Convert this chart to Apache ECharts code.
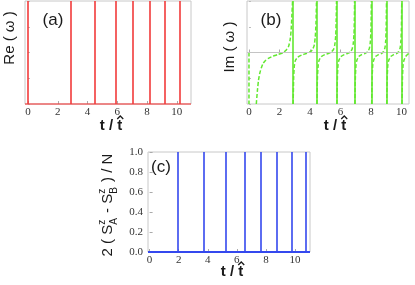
<!DOCTYPE html>
<html><head><meta charset="utf-8">
<script src="https://cdn.jsdelivr.net/npm/echarts@6/dist/echarts.min.js"></script>
<style>html,body{margin:0;padding:0;background:#fff}#c{width:415px;height:285px}</style>
</head><body><div id="c"></div>
<script>
// ---------- data ----------
const xTickLabels = [0, 2, 4, 6, 8, 10];
const reSpikesT = [0, 2.89, 4.5, 5.87, 7.05, 8.16, 9.2, 10.2];
const imPolesT = [2.88, 4.44, 5.75, 6.93, 8.03, 9.02, 10.02];
const imStartLine = [[0, 0], [0, -1]];
const imBranch1 = [[0.48,-1],[0.55,-0.75],[0.62,-0.55],[0.71,-0.4],[0.82,-0.29],[0.93,-0.21],[1.1,-0.15],[1.3,-0.11],[1.58,-0.07],[1.9,-0.04],[2.24,0.0],[2.45,0.05],[2.6,0.12],[2.7,0.25],[2.77,0.45],[2.82,0.75],[2.86,1]];
const imBranch2 = [[2.9,-1],[2.93,-0.5],[2.98,-0.25],[3.05,-0.15],[3.2,-0.09],[3.45,-0.05],[3.75,-0.02],[4.0,0.01],[4.15,0.05],[4.27,0.13],[4.35,0.3],[4.4,0.6],[4.43,1]];
const imBranch3 = [[4.46,-1],[4.49,-0.5],[4.54,-0.25],[4.6,-0.15],[4.75,-0.08],[4.98,-0.04],[5.2,-0.02],[5.4,0.01],[5.55,0.06],[5.63,0.15],[5.69,0.32],[5.72,0.6],[5.745,1]];
const imBranch4 = [[5.77,-1],[5.8,-0.5],[5.84,-0.25],[5.9,-0.15],[6.03,-0.08],[6.25,-0.04],[6.45,-0.02],[6.65,0.01],[6.77,0.07],[6.84,0.17],[6.89,0.35],[6.915,0.65],[6.93,1]];
const imBranch5 = [[6.95,-1],[6.98,-0.5],[7.02,-0.25],[7.08,-0.15],[7.2,-0.08],[7.4,-0.04],[7.6,-0.02],[7.8,0.02],[7.9,0.08],[7.96,0.2],[8.0,0.4],[8.02,0.7],[8.03,1]];
const imBranch6 = [[8.05,-1],[8.08,-0.5],[8.12,-0.25],[8.18,-0.15],[8.3,-0.08],[8.5,-0.04],[8.68,-0.02],[8.83,0.02],[8.92,0.09],[8.97,0.22],[9.0,0.45],[9.015,0.75],[9.025,1]];
const imBranch7 = [[9.04,-1],[9.07,-0.5],[9.11,-0.25],[9.17,-0.15],[9.3,-0.08],[9.5,-0.04],[9.68,-0.02],[9.83,0.02],[9.92,0.09],[9.97,0.22],[10.0,0.45],[10.015,0.75],[10.025,1]];
const imBranch8 = [[10.04,-1],[10.07,-0.5],[10.11,-0.25],[10.17,-0.15],[10.28,-0.08],[10.4,-0.04],[10.5,-0.02]];
const spinSpikesT = [1.92, 3.75, 5.22, 6.52, 7.67, 8.74, 9.77, 10.73];
const spinYTicks = [0, 0.2, 0.4, 0.6, 0.8, 1.0];

// ---------- styles ----------
const RED = '#f23a3a', GREEN = '#62e830', BLUE = '#3448ee';
const SANS = '"Liberation Sans", Arial, sans-serif';
const SERIF = '"Liberation Serif", "Times New Roman", serif';
const TXT = '#1a1a1a';

const chart = echarts.init(document.getElementById('c'), null, {renderer: 'canvas'});

function xAxisCfg(idx, min, max) {
  return {
    type: 'value', gridIndex: idx, min: min, max: max,
    axisLine: {show: false}, splitLine: {show: false},
    axisTick: {show: true, inside: true, length: 3, customValues: xTickLabels, lineStyle: {color: '#aaa'}},
    axisLabel: {customValues: xTickLabels, fontFamily: SERIF, fontSize: 11, color: '#333', margin: 3}
  };
}
function vLines(ts, color, width) {
  return {
    silent: true, symbol: ['none', 'none'], label: {show: false}, animation: false,
    lineStyle: {color: color, width: width, type: 'solid'},
    emphasis: {disabled: true},
    data: ts.map(t => ({xAxis: t}))
  };
}
function hLine(v, color, width, opacity) {
  return {
    silent: true, symbol: ['none', 'none'], label: {show: false}, animation: false,
    lineStyle: {color: color, width: width, type: 'solid', opacity: opacity},
    emphasis: {disabled: true},
    data: [{yAxis: v}]
  };
}
function branch(data) {
  return {
    type: 'line', xAxisIndex: 1, yAxisIndex: 1, data: data, showSymbol: false, smooth: 0.2,
    clip: true, animation: false, silent: true,
    lineStyle: {color: GREEN, width: 1.5, type: [4, 2]}
  };
}

const measCtx = document.createElement('canvas').getContext('2d');
function tw(text, font) { measCtx.font = font; return measCtx.measureText(text).width; }

// t / t-hat label
function tLabel(cx, cy) {
  const font = 'bold 15px ' + SANS;
  const full = 't / t';
  const w = tw(full, font), wt = tw('t', font);
  const x0 = cx - w / 2;
  const hx = x0 + w - wt / 2 + 0.5, hy = cy - 8;
  return {
    type: 'group', children: [
      {type: 'text', x: x0, y: cy, style: {text: full, font: font, fill: TXT, align: 'left', verticalAlign: 'middle', textAlign: 'left', textVerticalAlign: 'middle'}},
      {type: 'polyline', shape: {points: [[hx - 3, hy + 1], [hx, hy - 2], [hx + 3, hy + 1]]}, style: {stroke: TXT, lineWidth: 1.3, fill: null}}
    ]
  };
}
function rotText(text, cx, cy, size) {
  return {type: 'text', x: cx, y: cy, rotation: Math.PI / 2,
    style: {text: text, font: size + 'px ' + SANS, fill: TXT, align: 'center', verticalAlign: 'middle', textAlign: 'center', textVerticalAlign: 'middle'}};
}
function panelTag(text, cx, cy) {
  return {type: 'text', x: cx, y: cy,
    style: {text: text, font: '17px ' + SANS, fill: TXT, align: 'center', verticalAlign: 'middle', textAlign: 'center', textVerticalAlign: 'middle'}};
}
// 2 ( S_A^z - S_B^z ) / N  rotated
function spinLabel(cx, cy) {
  const big = '15px ' + SANS, small = '10px ' + SANS;
  const parts = [
    {t: '2 ( S', f: big, dy: 0},
    {t: 'z', f: small, dy: -6, stack: 'A'},
    {t: ' - S', f: big, dy: 0},
    {t: 'z', f: small, dy: -6, stack: 'B'},
    {t: ' ) / N', f: big, dy: 0}
  ];
  let total = 0;
  parts.forEach(p => { p.w = tw(p.t, p.f); if (p.stack) p.w = Math.max(p.w, tw(p.stack, small)) + 1; total += p.w; });
  let x = -total / 2;
  const children = [];
  parts.forEach(p => {
    children.push({type: 'text', x: x, y: p.dy, style: {text: p.t, font: p.f, fill: TXT, align: 'left', verticalAlign: 'middle', textAlign: 'left', textVerticalAlign: 'middle'}});
    if (p.stack) children.push({type: 'text', x: x, y: 6, style: {text: p.stack, font: small, fill: TXT, align: 'left', verticalAlign: 'middle', textAlign: 'left', textVerticalAlign: 'middle'}});
    x += p.w;
  });
  return {type: 'group', x: cx, y: cy, rotation: Math.PI / 2, children: children};
}

const gridBase = {show: true, borderColor: '#c8c8c8', borderWidth: 1, backgroundColor: 'transparent', containLabel: false};

const option = {
  backgroundColor: '#fff',
  animation: false,
  grid: [
    Object.assign({left: 25, top: 1, width: 166, height: 103}, gridBase),
    Object.assign({left: 247, top: 1, width: 162, height: 103}, gridBase),
    Object.assign({left: 148, top: 152, width: 162, height: 100}, gridBase)
  ],
  xAxis: [xAxisCfg(0, -0.2, 10.95), xAxisCfg(1, -0.13, 10.5), xAxisCfg(2, -0.11, 11.03)],
  yAxis: [
    {type: 'value', gridIndex: 0, min: 0, max: 1, axisLine: {show: false}, splitLine: {show: false}, axisLabel: {show: false},
     axisTick: {show: true, inside: true, length: 2, lineStyle: {color: '#bbb'}}, interval: 0.25},
    {type: 'value', gridIndex: 1, min: -1, max: 1, axisLine: {show: false}, splitLine: {show: false}, axisLabel: {show: false},
     axisTick: {show: true, inside: true, length: 2, lineStyle: {color: '#bbb'}}, interval: 0.5},
    {type: 'value', gridIndex: 2, min: 0, max: 1, interval: 0.2, axisLine: {show: false}, splitLine: {show: false},
     axisTick: {show: true, inside: true, length: 3, lineStyle: {color: '#aaa'}},
     axisLabel: {fontFamily: SERIF, fontSize: 11, color: '#333', margin: 5, formatter: v => v.toFixed(1)}}
  ],
  series: [
    {type: 'line', xAxisIndex: 0, yAxisIndex: 0, data: [], markLine: vLines(reSpikesT, RED, 1.6)},
    {type: 'line', xAxisIndex: 0, yAxisIndex: 0, data: [], markLine: hLine(0, RED, 2, 0.55)},
    {type: 'line', xAxisIndex: 1, yAxisIndex: 1, data: [], markLine: hLine(0, '#c4c4c4', 1, 1)},
    {type: 'line', xAxisIndex: 1, yAxisIndex: 1, data: [], markLine: vLines(imPolesT, GREEN, 1.6)},
    {type: 'line', xAxisIndex: 1, yAxisIndex: 1, data: imStartLine, showSymbol: false, animation: false, silent: true,
     lineStyle: {color: GREEN, width: 1.5, type: [4, 2]}},
    branch(imBranch1), branch(imBranch2), branch(imBranch3), branch(imBranch4),
    branch(imBranch5), branch(imBranch6), branch(imBranch7), branch(imBranch8),
    {type: 'line', xAxisIndex: 2, yAxisIndex: 2, data: [], markLine: vLines(spinSpikesT, BLUE, 1.6)},
    {type: 'line', xAxisIndex: 2, yAxisIndex: 2, data: [], markLine: hLine(0, BLUE, 2, 1)}
  ],
  graphic: [
    panelTag('(a)', 53, 20),
    panelTag('(b)', 271, 20),
    panelTag('(c)', 161, 167),
    rotText('Re ( ω )', 10, 38, 15),
    rotText('Im ( ω )', 230, 47, 15),
    spinLabel(108, 205),
    tLabel(111, 126),
    tLabel(335, 126),
    tLabel(232, 272)
  ]
};
chart.setOption(option);
</script></body></html>
